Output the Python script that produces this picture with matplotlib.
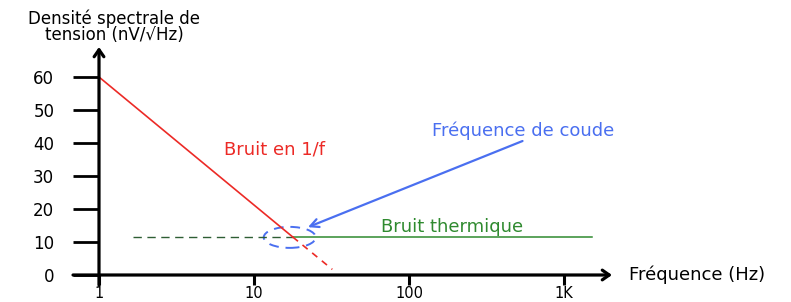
import numpy as np
import matplotlib
matplotlib.use("Agg")
import matplotlib.pyplot as plt
from matplotlib.patches import Ellipse
from matplotlib.transforms import ScaledTranslation

# ---- data ----
x_ticks = [1, 10, 100, 1000]
x_tick_labels = ["1", "10", "100", "1K"]
y_ticks = [0, 10, 20, 30, 40, 50, 60]
y_tick_labels = ["0", "10", "20", "30", "40", "50", "60"]

flicker_f = [1, 17.8]          # 1/f noise, solid part
flicker_v = [60, 11.5]
flicker_ext_f = [17.8, 32]     # 1/f noise, dashed extension
flicker_ext_v = [11.5, 1.7]
thermal_dash_f = [1.66, 17.8]  # thermal noise, dashed part
thermal_dash_v = [11.5, 11.5]
thermal_f = [17.8, 1510]       # thermal noise, solid part
thermal_v = [11.5, 11.5]
corner_f, corner_v = 17.0, 11.4
arrow_tip = (22.3, 14.5)
arrow_tail = (540, 40.6)

RED = "#ec2a26"
BLUE = "#4a6ff0"
GREEN = "#2f8a2f"
DKGREEN = "#2e5e34"

W, H = 791, 302
fig = plt.figure(figsize=(W / 100, H / 100), dpi=100)
L, R, B, T = 73, 612, 285, 47
ax = fig.add_axes([L / W, (H - B) / H, (R - L) / W, (B - T) / H])
ax.set_xscale("log")
px_dec = 155.0
ax.set_xlim(10 ** ((L - 99) / px_dec), 10 ** ((R - 99) / px_dec))
ppu = 3.3
ax.set_ylim((275 - B) / ppu, (275 - T) / ppu)
ax.patch.set_alpha(0)

for s in ax.spines.values():
    s.set_visible(False)
ax.spines["left"].set_position(("data", 1))
ax.spines["bottom"].set_position(("data", 0))

ax.set_xticks(x_ticks)
ax.set_xticklabels(x_tick_labels)
ax.xaxis.set_minor_locator(matplotlib.ticker.NullLocator())
ax.set_yticks(y_ticks)
ax.set_yticklabels(y_tick_labels)
ax.tick_params(axis="y", direction="out", length=18.7, width=2.0, pad=13.5,
               labelsize=12, colors="black")
ax.tick_params(axis="x", direction="out", length=7.5, width=2.2, pad=0.5,
               labelsize=10.5, colors="black")

# axis lines with arrows
ax.annotate("", xy=(1, ax.get_ylim()[1]), xytext=(1, ax.get_ylim()[0]),
            arrowprops=dict(arrowstyle="->,head_length=0.5,head_width=0.35",
                            lw=2.3, color="black", shrinkA=0, shrinkB=0))
ax.annotate("", xy=(ax.get_xlim()[1], 0), xytext=(ax.get_xlim()[0], 0),
            arrowprops=dict(arrowstyle="->,head_length=0.5,head_width=0.35",
                            lw=2.3, color="black", shrinkA=0, shrinkB=0))

# curves
ax.plot(thermal_dash_f, thermal_dash_v, color=DKGREEN, lw=1.0, dashes=(6, 4))
ax.plot(thermal_f, thermal_v, color=GREEN, lw=1.1)
ax.plot(flicker_f, flicker_v, color=RED, lw=1.2)
ax.plot(flicker_ext_f, flicker_ext_v, color=RED, lw=1.2, dashes=(4, 3.5))

# corner ellipse (fixed pixel size)
ell = Ellipse((0, 0), 0.52, 0.21, fill=False, edgecolor=BLUE, lw=1.4,
              linestyle=(0, (5, 3.5)),
              transform=fig.dpi_scale_trans + ScaledTranslation(corner_f, corner_v, ax.transData))
ax.add_patch(ell)

ax.annotate("", xy=arrow_tip, xytext=arrow_tail,
            arrowprops=dict(arrowstyle="->,head_length=0.6,head_width=0.3",
                            lw=1.6, color=BLUE, shrinkA=0, shrinkB=0))

# labels
ax.text(13.5, 37.9, "Bruit en 1/f", color=RED, fontsize=13, ha="center", va="center")
ax.text(189, 14.5, "Bruit thermique", color=GREEN, fontsize=13, ha="center", va="center")
ax.text(544, 43.6, "Fréquence de coude", color=BLUE, fontsize=13, ha="center", va="center")
fig.text(629 / W, (H - 275) / H, "Fréquence (Hz)", fontsize=13, ha="left", va="center")
fig.text(114 / W, (H - 27) / H, "Densité spectrale de\ntension (nV/√Hz)", fontsize=12,
         ha="center", va="center", linespacing=0.85)

fig.savefig("out.png", dpi=100)
